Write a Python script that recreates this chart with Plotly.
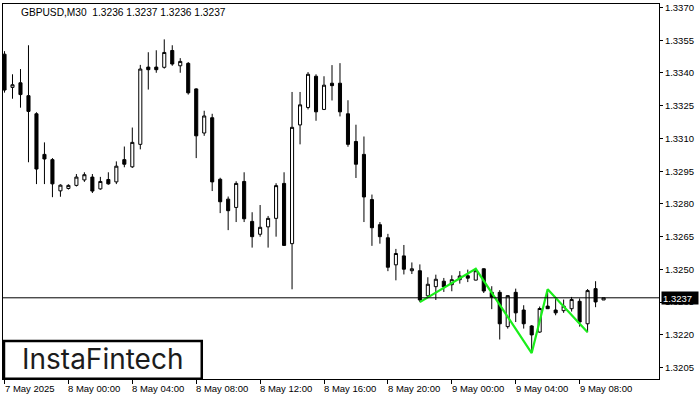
import plotly.graph_objects as go

# ---- data (GBPUSD M30, bar index 0 = 7 May 2025 20:00) ----
bar_index = list(range(76))
opens = [1.33486, 1.33334, 1.33355, 1.33296, 1.33213, 1.33027, 1.33003, 1.32860, 1.32871, 1.32885,
         1.32910, 1.32923, 1.32869, 1.32912, 1.32901, 1.33003, 1.32970, 1.33073, 1.33427, 1.33427,
         1.33426, 1.33503, 1.33433, 1.33444, 1.33327, 1.33125, 1.33195, 1.32913, 1.32822, 1.32784,
         1.32903, 1.32720, 1.32661, 1.32695, 1.32734, 1.32894, 1.32618, 1.33162, 1.33242, 1.33385,
         1.33233, 1.33353, 1.33353, 1.33213, 1.33086, 1.33027, 1.32820, 1.32705, 1.32645, 1.32521,
         1.32562, 1.32494, 1.32494, 1.32379, 1.32421, 1.32446, 1.32430, 1.32453, 1.32471, 1.32451,
         1.32503, 1.32395, 1.32395, 1.32238, 1.32395, 1.32314, 1.32241, 1.32213, 1.32332, 1.32314,
         1.32311, 1.32320, 1.32354, 1.32251, 1.32412, 1.32360]
highs = [1.33500, 1.33394, 1.33418, 1.33527, 1.33220, 1.33082, 1.33010, 1.32890, 1.32890, 1.32937,
         1.32945, 1.32937, 1.32924, 1.32945, 1.32995, 1.33063, 1.33150, 1.33437, 1.33495, 1.33504,
         1.33554, 1.33527, 1.33468, 1.33450, 1.33330, 1.33227, 1.33213, 1.32920, 1.32834, 1.32904,
         1.32945, 1.32762, 1.32795, 1.32745, 1.32895, 1.32945, 1.33313, 1.33313, 1.33404, 1.33394,
         1.33385, 1.33436, 1.33445, 1.33275, 1.33163, 1.33109, 1.32843, 1.32717, 1.32663, 1.32594,
         1.32612, 1.32532, 1.32523, 1.32464, 1.32476, 1.32461, 1.32473, 1.32492, 1.32499, 1.32503,
         1.32505, 1.32423, 1.32405, 1.32380, 1.32412, 1.32336, 1.32245, 1.32330, 1.32409, 1.32367,
         1.32362, 1.32374, 1.32367, 1.32410, 1.32446, 1.32370]
lows = [1.33310, 1.33282, 1.33241, 1.32991, 1.32891, 1.32891, 1.32831, 1.32833, 1.32866, 1.32880,
        1.32901, 1.32850, 1.32865, 1.32888, 1.32891, 1.32968, 1.32965, 1.33050, 1.33324, 1.33401,
        1.33420, 1.33433, 1.33401, 1.33301, 1.33010, 1.33112, 1.32859, 1.32758, 1.32680, 1.32717,
        1.32717, 1.32600, 1.32650, 1.32600, 1.32650, 1.32610, 1.32409, 1.33073, 1.33233, 1.33181,
        1.33230, 1.33274, 1.33201, 1.33062, 1.32919, 1.32717, 1.32608, 1.32618, 1.32492, 1.32450,
        1.32477, 1.32479, 1.32350, 1.32370, 1.32360, 1.32397, 1.32400, 1.32435, 1.32442, 1.32450,
        1.32392, 1.32318, 1.32179, 1.32229, 1.32259, 1.32229, 1.32117, 1.32210, 1.32320, 1.32290,
        1.32301, 1.32307, 1.32238, 1.32212, 1.32327, 1.32360]
closes = [1.33322, 1.33346, 1.33301, 1.33224, 1.32960, 1.33006, 1.32892, 1.32886, 1.32885, 1.32923,
          1.32934, 1.32859, 1.32903, 1.32892, 1.32973, 1.32982, 1.33082, 1.33418, 1.33415, 1.33415,
          1.33494, 1.33441, 1.33453, 1.33309, 1.33112, 1.33203, 1.32901, 1.32810, 1.32769, 1.32894,
          1.32732, 1.32650, 1.32693, 1.32734, 1.32884, 1.32610, 1.33151, 1.33254, 1.33394, 1.33222,
          1.33344, 1.33342, 1.33222, 1.33073, 1.32982, 1.32832, 1.32691, 1.32650, 1.32510, 1.32573,
          1.32501, 1.32503, 1.32360, 1.32432, 1.32455, 1.32420, 1.32453, 1.32470, 1.32460, 1.32494,
          1.32401, 1.32373, 1.32251, 1.32380, 1.32301, 1.32251, 1.32200, 1.32321, 1.32320, 1.32301,
          1.32332, 1.32362, 1.32259, 1.32403, 1.32351, 1.32370]

tick_index = [0, 8, 16, 24, 32, 40, 48, 56, 64, 72]
tick_labels = ["7 May 2025", "8 May 00:00", "8 May 04:00", "8 May 08:00", "8 May 12:00",
               "8 May 16:00", "8 May 20:00", "9 May 00:00", "9 May 04:00", "9 May 08:00"]

price_ticks = [1.3205, 1.3220, 1.3235, 1.3250, 1.3265, 1.3280, 1.3295,
               1.3310, 1.3325, 1.3340, 1.3355, 1.3370]
price_tick_labels = ["1.3205", "1.3220", "1.3235", "1.3250", "1.3265", "1.3280", "1.3295",
                     "1.3310", "1.3325", "1.3340", "1.3355", "1.3370"]

pattern_index = [52, 59, 66, 68, 73]
pattern_price = [1.32350, 1.32503, 1.32117, 1.32409, 1.32212]

current_price = 1.3237
header = "GBPUSD,M30  1.3236 1.3237 1.3236 1.3237"
logo = "InstaFintech"

FONT = "Liberation Sans"

fig = go.Figure()
fig.add_trace(go.Candlestick(
    x=bar_index, open=opens, high=highs, low=lows, close=closes,
    increasing=dict(fillcolor="white", line=dict(color="black", width=1)),
    decreasing=dict(fillcolor="black", line=dict(color="black", width=1)),
    whiskerwidth=0, showlegend=False, hoverinfo="skip",
))
fig.add_trace(go.Scatter(
    x=pattern_index, y=pattern_price, mode="lines",
    line=dict(color="#1aee1a", width=2.2), showlegend=False, hoverinfo="skip",
))

fig.add_hline(y=current_price, line=dict(color="black", width=1))

annotations = []
for xi, lab in zip(tick_index, tick_labels):
    annotations.append(dict(x=xi, y=0, xref="x", yref="paper", text=lab, showarrow=False,
                            xanchor="left", yanchor="top", yshift=-2, xshift=-2,
                            font=dict(family=FONT, size=9.5, color="black")))
annotations.append(dict(x=0.0244, y=0.978, xref="paper", yref="paper", text=header,
                        showarrow=False, xanchor="left", yanchor="middle",
                        font=dict(family=FONT, size=10.2, color="black")))
annotations.append(dict(x=1.003, y=current_price, xref="paper", yref="y", text=f"{current_price:.4f}",
                        showarrow=False, xanchor="left", yanchor="middle", bgcolor="black",
                        borderpad=1, width=34, height=10, align="left",
                        font=dict(family=FONT, size=9.5, color="white")))
annotations.append(dict(x=0.152, y=0.053, xref="paper", yref="paper", text=logo,
                        showarrow=False, xanchor="center", yanchor="middle",
                        font=dict(family="Inter", size=28, color="#1c1c1c")))

fig.add_shape(type="rect", xref="paper", yref="paper", x0=0.0015, x1=0.303, y0=0.001, y1=0.1016,
              line=dict(color="black", width=2.5), fillcolor="white", layer="above")

fig.update_layout(
    width=700, height=400,
    margin=dict(l=2, r=41, t=2, b=21),
    paper_bgcolor="white", plot_bgcolor="white",
    boxgap=0.45,
    annotations=annotations,
    xaxis=dict(range=[-0.19, 81.94], tickvals=tick_index, showticklabels=False,
               ticks="outside", ticklen=4, tickcolor="black", showline=True, mirror=True,
               linecolor="black", linewidth=1, showgrid=False, zeroline=False,
               rangeslider=dict(visible=False)),
    yaxis=dict(side="right", range=[1.31998, 1.33716],
               tickvals=price_ticks, ticktext=price_tick_labels,
               ticks="outside", ticklen=3, tickcolor="black", ticklabeloverflow="allow",
               showline=True, mirror=True, linecolor="black", linewidth=1,
               showgrid=False, zeroline=False,
               tickfont=dict(family=FONT, size=9.5, color="black")),
)

fig.write_html("out.html", config={"displayModeBar": False},
               post_script="document.body.style.margin='0px';")
